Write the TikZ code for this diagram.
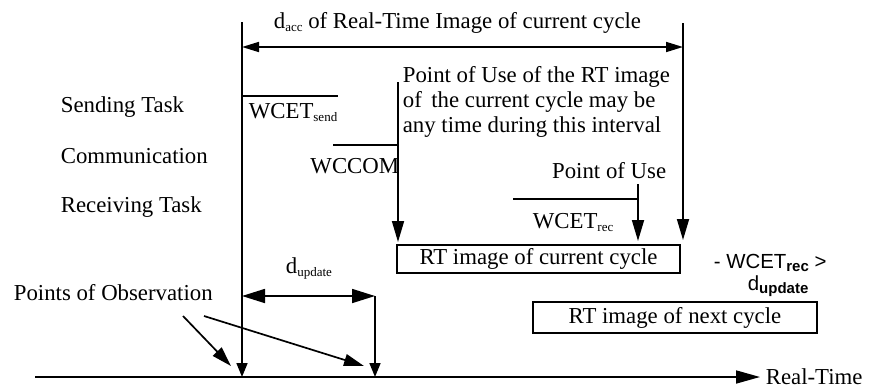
\documentclass[tikz,border=0pt]{standalone}
\usepackage{fontspec}
\setmainfont{Liberation Serif}
\setsansfont{Liberation Sans}
\usetikzlibrary{arrows.meta}
\newcommand\subs[1]{\raisebox{-0.35ex}{\fontsize{13}{13}\selectfont #1}}
\newcommand\subsb[1]{\raisebox{-0.35ex}{\fontsize{15}{15}\selectfont\bfseries #1}}
\begin{document}
\begin{tikzpicture}[x=1pt,y=-1pt,line width=1.7pt,
  tip/.style={-{Triangle[length=14pt,width=11pt]}},
  longtip/.style={-{Triangle[length=21pt,width=12pt]}},
  acctip/.style={{Triangle[length=17pt,width=10pt]}-{Triangle[length=17pt,width=10pt]}},
  dtip/.style={{Triangle[length=23pt,width=14pt]}-{Triangle[length=23pt,width=14pt]}},
  bigtip/.style={-{Triangle[length=20pt,width=12pt]}},
  lbl/.style={font=\fontsize{22.8}{25}\selectfont,inner sep=0pt},
  slbl/.style={font=\sffamily\fontsize{20.4}{22}\selectfont,inner sep=0pt},
  rtbox/.style={draw,line width=1.7pt,font=\fontsize{22.8}{25}\selectfont,inner sep=0pt}]
\useasboundingbox (0,0) rectangle (872,388);
% coordinates
\coordinate (mtop) at (242,22);
\coordinate (mbot) at (242,377);
\coordinate (rtop) at (683,23);
\coordinate (rmid) at (683,200);
\coordinate (rbot) at (683,240);
\coordinate (accL) at (242,47);
\coordinate (accR) at (683,47);
\coordinate (sendA) at (242,96);
\coordinate (sendB) at (338,96);
\coordinate (comA) at (333,145);
\coordinate (comB) at (398,145);
\coordinate (putop) at (398,82);
\coordinate (pubot) at (398,242);
\coordinate (recA) at (513,199);
\coordinate (recB) at (638,199);
\coordinate (rectop) at (638,184);
\coordinate (recbot) at (638,241);
\coordinate (updL) at (242,296);
\coordinate (updR) at (375,296);
\coordinate (updbot) at (375,377);
\coordinate (axL) at (35,377);
\coordinate (axR) at (760,377);
\coordinate (o1a) at (183,316);
\coordinate (o1b) at (231,366);
\coordinate (o2a) at (204,316);
\coordinate (o2b) at (364,366);
% boxes
\node[rtbox,minimum width=283pt,minimum height=28pt] (cur) at (538.5,259) {RT image of current cycle};
\node[rtbox,minimum width=284pt,minimum height=31pt] (nxt) at (675,317.5) {RT image of next cycle};
% labels
\node[lbl,anchor=base west] (dacc) at (273,28) {d\subs{acc} of Real-Time Image of current cycle};
\node[lbl,anchor=base west] (snd) at (60,112) {Sending Task};
\node[lbl,anchor=base west] (com) at (60,163) {Communication};
\node[lbl,anchor=base west] (rcv) at (60,212) {Receiving Task};
\node[lbl,anchor=base west] (poo) at (13,300) {Points of Observation};
\node[lbl,anchor=base west] (wsend) at (248,118) {WCET\subs{send}};
\node[lbl,anchor=base east] (wccom) at (400,173) {WCCOM};
\node[lbl,anchor=base west] (pu1) at (402,82) {Point of Use of the RT image};
\node[lbl,anchor=base west] (pu2) at (402,107) {of\, the current cycle may be};
\node[lbl,anchor=base west] (pu3) at (402,132) {any time during this interval};
\node[lbl,anchor=base east] (pou) at (667,178) {Point of Use};
\node[lbl,anchor=base west] (wrec) at (532,228) {WCET\subs{rec}};
\node[lbl,anchor=base west] (dupd) at (285,273) {d\subs{update}};
\node[slbl,anchor=base west] (cond1) at (713,268) {- WCET\subsb{rec} >};
\node[slbl,anchor=base west] (cond2) at (747,290) {d\subsb{update}};
\node[lbl,anchor=base west] (rt) at (765,384) {Real-Time};
% lines
\draw[tip] (mtop) -- (mbot);
\draw (rtop) -- (rmid);
\draw[longtip] (rmid) -- (rbot);
\draw[acctip] (accL) -- (accR);
\draw (sendA) -- (sendB);
\draw (comA) -- (comB);
\draw[longtip] (putop) -- (pubot);
\draw (recA) -- (recB);
\draw[longtip] (rectop) -- (recbot);
\draw[dtip] (updL) -- (updR);
\draw[tip] (updR) -- (updbot);
\draw[-{Triangle[length=24pt,width=13pt]}] (axL) -- (axR);
\draw[bigtip] (o1a) -- (o1b);
\draw[bigtip] (o2a) -- (o2b);
\end{tikzpicture}
\end{document}
